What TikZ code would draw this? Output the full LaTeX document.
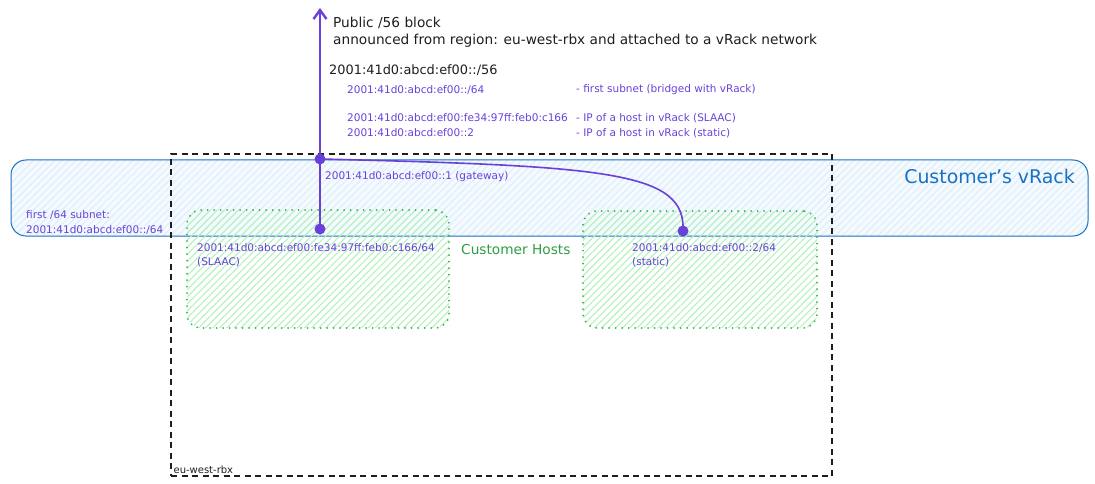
\documentclass[tikz,border=0pt]{standalone}
\usepackage{fontspec}
\setmainfont{DejaVu Sans}
\usetikzlibrary{arrows.meta,patterns.meta,positioning}
\definecolor{ink}{HTML}{1E1E1E}
\definecolor{vio}{HTML}{6741D9}
\definecolor{rackblue}{HTML}{1971C2}
\definecolor{rackfill}{HTML}{F5FAFF}
\definecolor{hatchblue}{HTML}{DCEDFB}
\definecolor{hostgreen}{HTML}{2F9E44}
\definecolor{dotgreen}{HTML}{37B24D}
\definecolor{hatchgreen}{HTML}{B2F2BB}

\begin{document}
\begin{tikzpicture}[x=1pt,y=-1pt,
		bigtxt/.style={font=\fontsize{13.7}{16}\selectfont, text=ink, anchor=west, inner sep=0pt},
		smalltxt/.style={font=\fontsize{10.5}{14.5}\selectfont, text=vio, anchor=west, inner sep=0pt, align=left},
		hostbox/.style={rounded corners=14pt, inner sep=0pt,
			pattern={Lines[angle=45,distance=5pt,line width=1.1pt]}, pattern color=hatchgreen,
			postaction={draw=dotgreen, line width=2pt, dash pattern=on 0pt off 6.5pt, line cap=round}},
		dot/.style={circle, fill=vio, inner sep=0pt, minimum size=11pt},
		link/.style={vio, line width=1.6pt}]
				\useasboundingbox (0,0) rectangle (1095,484);
				% vRack
				\node[draw=rackblue, line width=1pt, rounded corners=15pt, preaction={fill=rackfill},
					pattern={Lines[angle=45,distance=5pt,line width=1pt]}, pattern color=hatchblue,
					minimum width=1077pt, minimum height=76pt, inner sep=0pt] (vrack) at (549.5,198) {};
				\node[anchor=east, inner sep=0pt, font=\fontsize{18.9}{20}\selectfont, text=rackblue] (vracklbl) at (1075,176) {Customer's vRack};
				% region and hosts
				\node[draw=ink, line width=1.2pt, dash pattern=on 6pt off 4.5pt, minimum width=661pt, minimum height=322pt, inner sep=0pt] (region) at (501.5,315) {};
				\node[anchor=south west, inner sep=3pt, font=\fontsize{10}{11}\selectfont, text=ink] (regionlbl) at (region.south west) {eu-west-rbx};
				\node[hostbox, minimum width=262pt, minimum height=118pt] (host1) at (318,269) {};
				\node[hostbox, minimum width=234pt, minimum height=117pt] (host2) at (700,269.5) {};
				% dots and links
				\coordinate (top) at (320,8);
				\node[dot] (gw) at (320,159) {};
				\node[dot] (h1) at (320,229) {};
				\node[dot] (h2) at (683,231) {};
				\draw[link, line width=2.4pt, -{Straight Barb[length=9pt,width=13pt]}] (gw.center)--(top);
				\draw[link] (gw.center)--(h1.center);
				\draw[link] (gw.center) .. controls (610,166) and (686,172) .. (h2.center);
				% texts
				\node[bigtxt] (pub) at (333,23) {Public /56 block};
				\node[bigtxt] (ann) at (333,41) {announced from region: eu-west-rbx and attached to a vRack network};
				\node[bigtxt, font=\fontsize{12.9}{15}\selectfont] (blk) at (329,70) {2001:41d0:abcd:ef00::/56};
				\node[smalltxt] (ip1) at (347,90) {2001:41d0:abcd:ef00::/64};
				\node[smalltxt] (ip2) at (347,118) {2001:41d0:abcd:ef00:fe34:97ff:feb0:c166};
				\node[smalltxt] (ip3) at (347,133) {2001:41d0:abcd:ef00::2};
				\node[smalltxt] (d1) at (576,90) {- first subnet (bridged with vRack)};
				\node[smalltxt] (d2) at (576,118) {- IP of a host in vRack (SLAAC)};
				\node[smalltxt] (d3) at (576,133) {- IP of a host in vRack (static)};
				\node[smalltxt] (gwlbl) at (325,177) {2001:41d0:abcd:ef00::1 (gateway)};
				\node[smalltxt] (sub) at (26,222.5) {first /64 subnet:\\2001:41d0:abcd:ef00::/64};
				\node[smalltxt] (h1lbl) at (197,255) {2001:41d0:abcd:ef00:fe34:97ff:feb0:c166/64\\(SLAAC)};
				\node[smalltxt] (h2lbl) at (632,255) {2001:41d0:abcd:ef00::2/64\\(static)};
				\node[bigtxt, text=hostgreen] (hosts) at (461,250) {Customer Hosts};
			\end{tikzpicture}
\end{document}
